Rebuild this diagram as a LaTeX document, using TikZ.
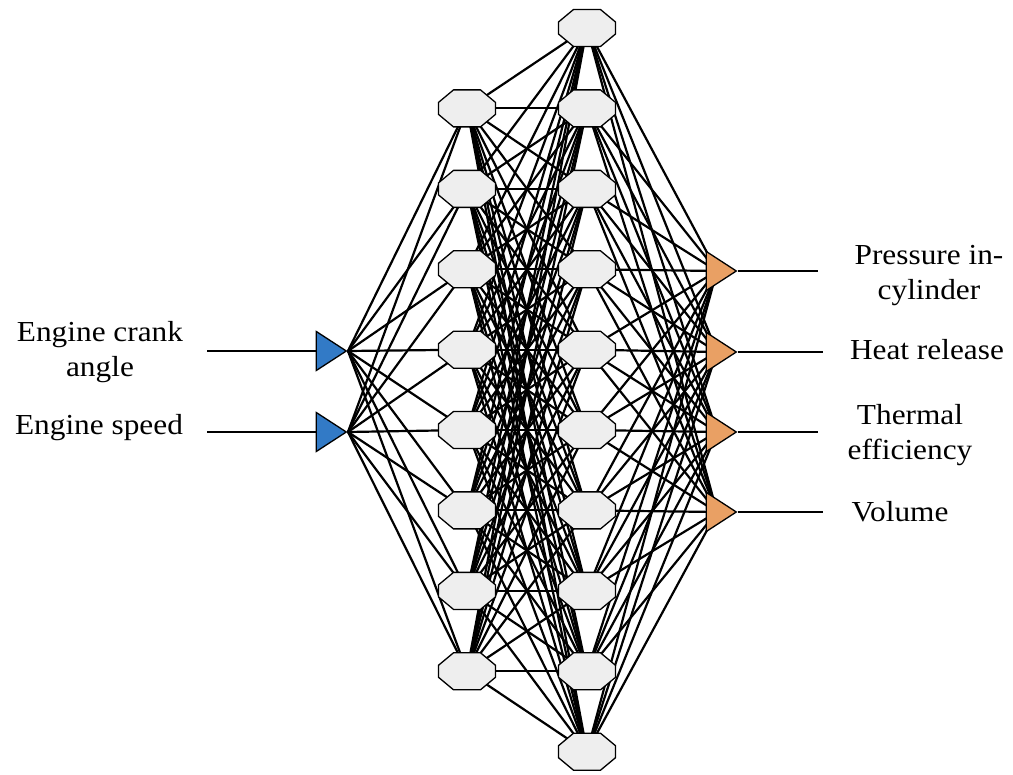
\documentclass[tikz,border=0pt]{standalone}
\usepackage{fontspec}
\setmainfont{Liberation Serif}[FakeStretch=1.08]
\usetikzlibrary{shapes.geometric}
\pgfdeclarelayer{bg}
\pgfsetlayers{bg,main}
\definecolor{inblue}{RGB}{50,122,198}
\definecolor{outorange}{RGB}{233,160,100}
\definecolor{nodegray}{RGB}{238,238,238}
\begin{document}
\begin{tikzpicture}[x=1pt,y=-1pt,
  neuron/.style={rectangle, minimum width=60pt, minimum height=40pt, inner sep=0pt,
    path picture={
      \draw[fill=nodegray, line width=1.3pt]
        ([shift={(-13.5pt,18.5pt)}]path picture bounding box.center) --
        ([shift={(13.5pt,18.5pt)}]path picture bounding box.center) --
        ([shift={(28.5pt,6pt)}]path picture bounding box.center) --
        ([shift={(28.5pt,-6pt)}]path picture bounding box.center) --
        ([shift={(13.5pt,-18.5pt)}]path picture bounding box.center) --
        ([shift={(-13.5pt,-18.5pt)}]path picture bounding box.center) --
        ([shift={(-28.5pt,-6pt)}]path picture bounding box.center) --
        ([shift={(-28.5pt,6pt)}]path picture bounding box.center) -- cycle;
    }},
  tri/.style={isosceles triangle, isosceles triangle stretches, minimum width=39pt, minimum height=30pt,
    inner sep=0pt, draw=black, line width=1.3pt},
  intri/.style={tri, fill=inblue},
  outtri/.style={tri, fill=outorange},
  conn/.style={line width=2.2pt, black},
  iol/.style={line width=1.8pt, black},
  lbl/.style={font=\fontsize{29}{35}\selectfont, align=center, inner sep=0pt, anchor=base}
]
\useasboundingbox (0,0) rectangle (1013,775);

% hidden layer 2 (right column)
\foreach \i/\y in {0/28,1/108.4,2/188.9,3/269.3,4/349.7,5/430,6/510.4,7/590.9,8/671.3,9/751.7}
  \node[neuron] (hb\i) at (587,\y) {};
% hidden layer 1 (left column)
\foreach \i/\y in {1/108.4,2/188.9,3/269.3,4/349.7,5/430,6/510.4,7/590.9,8/671.3}
  \node[neuron] (ha\i) at (467,\y) {};

% inputs
\node[intri, anchor=apex] (in1) at (348,351) {};
\node[intri, anchor=apex] (in2) at (348,432) {};
\coordinate (ie1) at (207,351);
\coordinate (ie2) at (207,432);

% outputs
\foreach \i/\y/\e in {1/271/818,2/352/823,3/432/818,4/512/823}{
  \node[outtri, anchor=apex] (out\i) at (738,\y) {};
  \coordinate (oe\i) at (\e,\y);
}

\begin{pgfonlayer}{bg}
  \foreach \a in {1,2}{
    \draw[iol] (ie\a) -- (in\a.center);
    \foreach \b in {1,...,8} \draw[conn] (in\a.apex) -- (ha\b.center);
  }
  \foreach \a in {1,...,8}
    \foreach \b in {0,...,9} \draw[conn] (ha\a.center) -- (hb\b.center);
  \foreach \a in {0,...,9}
    \foreach \b in {1,...,4} \draw[conn] (hb\a.center) -- (out\b.center);
  \foreach \b in {1,...,4} \draw[iol] (out\b.apex) -- (oe\b);
\end{pgfonlayer}

% labels (base anchor = baseline of last line)
\node[lbl] (lcrank) at (100,377) {Engine crank\\angle};
\node[lbl] (lspeed) at (99,435) {Engine speed};
\node[lbl] (lpress) at (929,300) {Pressure in-\\cylinder};
\node[lbl] (lheat) at (927,360) {Heat release};
\node[lbl] (ltherm) at (910,460) {Thermal\\efficiency};
\node[lbl] (lvol) at (900,522) {Volume};
\end{tikzpicture}
\end{document}
